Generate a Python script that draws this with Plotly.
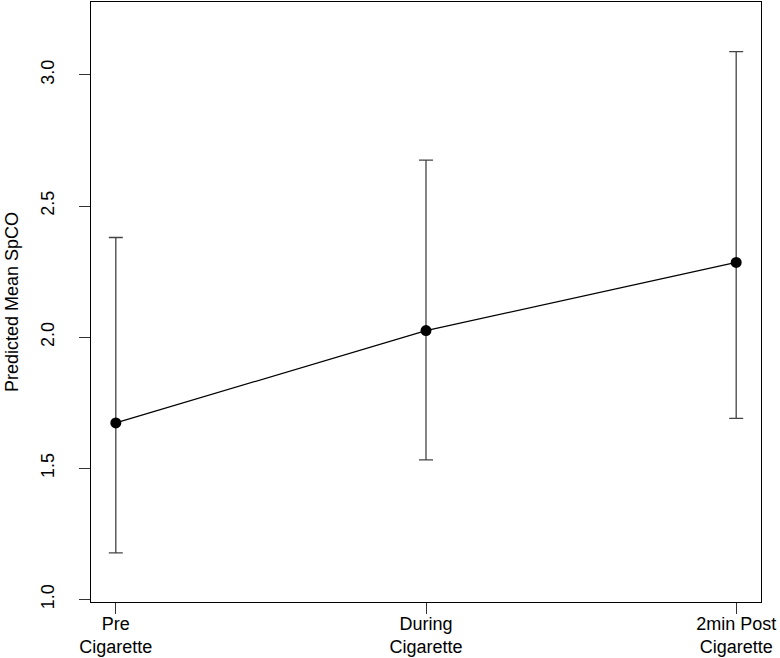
import plotly.graph_objects as go

# Data
categories = ["Pre<br>Cigarette", "During<br>Cigarette", "2min Post<br>Cigarette"]
x_pos = [1, 2, 3]
means = [1.673, 2.025, 2.285]
upper = [2.380, 2.675, 3.089]
lower = [1.177, 1.532, 1.690]
y_ticks = [1.0, 1.5, 2.0, 2.5, 3.0]

err_plus = [u - m for u, m in zip(upper, means)]
err_minus = [m - l for m, l in zip(means, lower)]

FONT = "Liberation Sans, Arial, Helvetica, sans-serif"

fig = go.Figure()
fig.add_trace(go.Scatter(
    x=x_pos, y=means,
    mode="lines+markers",
    line=dict(color="black", width=1.2),
    marker=dict(color="black", size=11),
    error_y=dict(type="data", symmetric=False, array=err_plus, arrayminus=err_minus,
                 color="#444444", thickness=1.3, width=7),
    showlegend=False,
))

fig.update_layout(
    width=780, height=658,
    margin=dict(l=91, r=19, t=2, b=56),
    paper_bgcolor="white", plot_bgcolor="white",
    font=dict(family=FONT, size=18, color="black"),
)
fig.update_xaxes(
    range=[0.92, 3.08],
    automargin=False,
    tickmode="array", tickvals=x_pos, ticktext=categories,
    ticklabelstandoff=-6,
    showline=True, linecolor="black", linewidth=1, mirror=True,
    ticks="outside", ticklen=11, tickcolor="#333333", tickwidth=1,
    showgrid=False, zeroline=False,
    tickfont=dict(family=FONT, size=18, color="black"),
)
fig.update_yaxes(
    range=[0.99, 3.278],
    automargin=False,
    tickmode="array", tickvals=y_ticks, ticktext=[f"{v:.1f}" for v in y_ticks],
    tickangle=-90,
    ticklabelstandoff=18,
    showline=True, linecolor="black", linewidth=1, mirror=True,
    ticks="outside", ticklen=11, tickcolor="#333333", tickwidth=1,
    showgrid=False, zeroline=False,
    tickfont=dict(family=FONT, size=18, color="black"),
    title=dict(text="Predicted Mean SpCO", font=dict(family=FONT, size=18, color="black"), standoff=14),
)

fig.write_html("out.html", config={"displayModeBar": False},
               post_script="document.body.style.margin='0';document.body.style.overflow='hidden';")
